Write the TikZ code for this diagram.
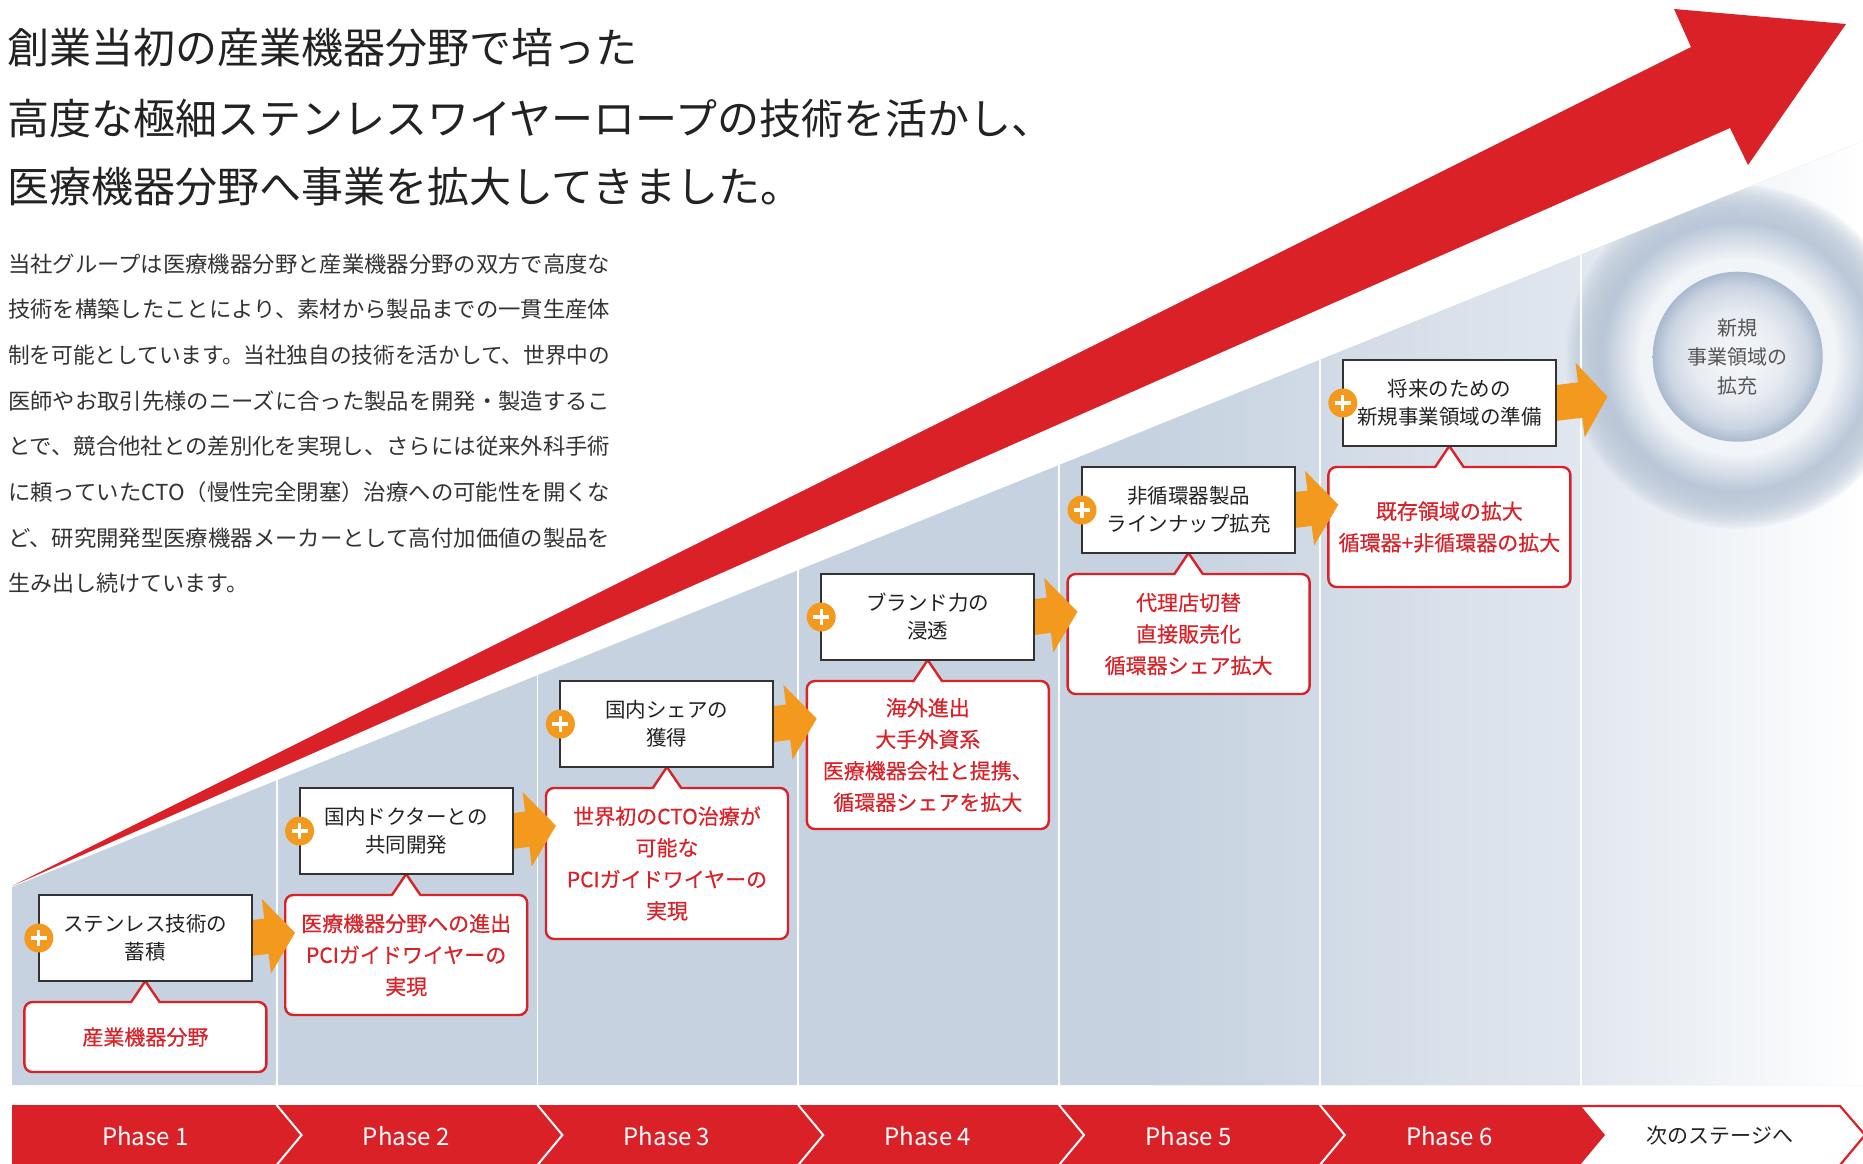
\documentclass[tikz,border=0pt]{standalone}
\usepackage{graphicx}
\usepackage{fontspec}
\setmainfont{Noto Sans CJK JP}
\newfontfamily\redfont[FakeBold=0.4]{Noto Sans CJK JP}
\definecolor{redc}{HTML}{DA2128}
\definecolor{orangec}{HTML}{F39A1E}
\definecolor{grayc}{HTML}{C6D2E0}
\definecolor{midgray}{HTML}{E1E7EF}
\definecolor{boxc}{HTML}{333333}
\definecolor{textc}{HTML}{222222}
\definecolor{bodyc}{HTML}{333333}
\definecolor{circtext}{HTML}{555555}
\definecolor{hwhite}{HTML}{F2F5F8}
\definecolor{hring}{HTML}{BAC7D8}
\definecolor{icz}{HTML}{F6F8FA}
\definecolor{ica}{HTML}{E8ECF2}
\definecolor{icb}{HTML}{CAD4E1}
\definecolor{icc}{HTML}{A9B9CE}
\pgfdeclareradialshading{haloshade}{\pgfpointorigin}{color(0bp)=(hwhite); color(18bp)=(hwhite); color(25bp)=(hring); color(50bp)=(hring)}
\pgfdeclareradialshading{innershade}{\pgfpointorigin}{color(0bp)=(icz); color(13bp)=(ica); color(21bp)=(icb); color(25bp)=(icc); color(50bp)=(icc)}
\pgfdeclarelayer{back}
\pgfdeclarelayer{low}
\pgfdeclarelayer{mid}
\pgfsetlayers{back,low,mid,main}
\newcommand{\oarrow}[3]{\fill[orangec, shift={(#1)}, rotate=7] (-12,-17.8) -- (#2,-17.8) -- (#2,-37.6) -- (#3,0) -- (#2,37.6) -- (#2,17.8) -- (-12,17.8) -- cycle;}
\newcommand{\jline}[1]{\resizebox{602pt}{\height}{#1}}
\newcommand{\callptr}[2]{%
  \fill[white] ([xshift=-13.3pt,yshift=-2.6pt]#1.north) -- ([xshift=-13.3pt]#1.north) -- (#2.south) -- ([xshift=13.3pt]#1.north) -- ([xshift=13.3pt,yshift=-2.6pt]#1.north) -- cycle;
  \draw[redc, line width=2.4pt] ([xshift=-14.2pt]#1.north) -- (#2.south) -- ([xshift=14.2pt]#1.north);}
\begin{document}
\begin{tikzpicture}[x=1pt,y=-1pt,
  box/.style={draw=boxc, line width=2pt, fill=white, minimum width=213pt, minimum height=86pt, inner sep=0pt, outer sep=0pt, align=center, text=textc, font=\fontsize{20.5pt}{28pt}\selectfont, anchor=north west},
  callout/.style={draw=redc, line width=2.4pt, fill=white, rounded corners=8pt, minimum width=242pt, inner sep=0pt, outer sep=0pt, align=center, text=redc, font=\redfont\fontsize{21pt}{31.5pt}\selectfont, anchor=north},
  phase/.style={text=white, font=\fontsize{24pt}{28pt}\selectfont, inner sep=0pt},
  titletext/.style={anchor=west, inner sep=0pt, text=textc, font=\fontsize{42pt}{50pt}\selectfont},
  bodytext/.style={anchor=west, inner sep=0pt, text=bodyc, font=\fontsize{22pt}{30pt}\selectfont},
  circtextstyle/.style={align=center, inner sep=0pt, text=circtext, font=\fontsize{20pt}{29pt}\selectfont},
  plussign/.pic={\fill[orangec] (0,0) circle (14.5pt); \draw[white, line width=3.2pt] (-8pt,0) -- (8pt,0) (0,-8pt) -- (0,8pt);}
]
\useasboundingbox (0,0) rectangle (1863,1163);
\begin{pgfonlayer}{back}
\fill[white] (0,0) rectangle (1863,1163);
% gray staircase background
\begin{scope}
\clip (12,887) -- (1863,141) -- (1863,1085) -- (12,1085) -- cycle;
\fill[grayc] (0,0) rectangle (1863,1100);
\shade[left color=grayc, right color=midgray] (1150,0) rectangle (1580,1100);
\shade[left color=midgray, right color=white] (1580,0) rectangle (1863,1100);
\coordinate (ctr) at (1737.7,356.7);
\foreach \r in {172,170,...,136} { \fill[hring, opacity=0.12] (ctr) circle (\r pt); }
\shade[shading=haloshade] (ctr) circle (135pt);
\shade[shading=innershade] (ctr) circle (85pt);
\foreach \d in {276.6,537.4,798.2,1059,1319.8,1580.6} { \draw[white, line width=1.8pt] (\d,0) -- (\d,1090); }
\end{scope}
% big red arrow
\fill[redc] (12,886) -- (1691,47) -- (1674,9) -- (1846,24) -- (1748,165) -- (1730,128) -- cycle;
% phase bar
\fill[redc] (12,1105) -- (1580,1105) -- (1605,1135) -- (1580,1165) -- (12,1165) -- cycle;
\foreach \d in {276.6,537.4,798.2,1059,1319.8} { \draw[white, line width=2pt] (\d,1105) -- (\d+25,1135) -- (\d,1165); }
\draw[redc, line width=2.2pt] (1580,1106) -- (1840,1106) -- (1865,1135) -- (1840,1165);
\end{pgfonlayer}

% phase boxes
\node[box] (b1) at (38.8,895) {ステンレス技術の\\蓄積};
\node[box] (b2) at (299.6,788) {国内ドクターとの\\共同開発};
\node[box] (b3) at (560.4,681) {国内シェアの\\獲得};
\node[box] (b4) at (821.2,574) {ブランド力の\\浸透};
\node[box] (b5) at (1082,467) {非循環器製品\\ラインナップ拡充};
\node[box] (b6) at (1342.8,360) {将来のための\\新規事業領域の準備};
\foreach \b in {b1,b2,b3,b4,b5,b6} { \pic at (\b.west) {plussign}; }

% callouts
\begin{pgfonlayer}{low}
\node[callout, minimum height=70pt] (c1) at (145.4,1002) {産業機器分野};
\node[callout, minimum height=120pt] (c2) at (406.2,895) {医療機器分野への進出\\PCIガイドワイヤーの\\実現};
\node[callout, minimum height=151pt] (c3) at (667,788) {世界初のCTO治療が\\可能な\\PCIガイドワイヤーの\\実現};
\node[callout, minimum height=148pt] (c4) at (927.8,681) {海外進出\\大手外資系\\医療機器会社と提携、\\循環器シェアを拡大};
\node[callout, minimum height=120pt] (c5) at (1188.6,574) {代理店切替\\直接販売化\\循環器シェア拡大};
\node[callout, minimum height=120pt] (c6) at (1449.4,467) {既存領域の拡大\\循環器+非循環器の拡大};
\callptr{c1}{b1}
\callptr{c2}{b2}
\callptr{c3}{b3}
\callptr{c4}{b4}
\callptr{c5}{b5}
\callptr{c6}{b6}
\end{pgfonlayer}

% orange arrows
\begin{pgfonlayer}{mid}
\oarrow{b1.east}{14.7}{43.6}
\oarrow{b2.east}{14.7}{43.6}
\oarrow{b3.east}{14.7}{43.6}
\oarrow{b4.east}{14.7}{43.6}
\oarrow{b5.east}{14.7}{43.6}
\oarrow{b6.east}{24.5}{52}
\end{pgfonlayer}

% circle text
\node[circtextstyle] (nc) at (1737.7,357) {新規\\事業領域の\\拡充};

% phase labels
\node[phase] (ph1) at (145.4,1136) {Phase 1};
\node[phase] (ph2) at (406.2,1136) {Phase 2};
\node[phase] (ph3) at (667,1136) {Phase 3};
\node[phase] (ph4) at (927.8,1136) {Phase 4};
\node[phase] (ph5) at (1188.6,1136) {Phase 5};
\node[phase] (ph6) at (1449.4,1136) {Phase 6};
\node[inner sep=0pt, text=textc, font=\fontsize{21pt}{25pt}\selectfont] (ph7) at (1720,1136) {次のステージへ};

% title
\node[titletext] (t1) at (7,47.5) {創業当初の産業機器分野で培った};
\node[titletext] (t2) at (7,118.8) {高度な極細ステンレスワイヤーロープの技術を活かし、};
\node[titletext] (t3) at (7,186.5) {医療機器分野へ事業を拡大してきました。};

% body
\node[bodytext] (p1) at (8,263.8) {\jline{当社グループは医療機器分野と産業機器分野の双方で高度な}};
\node[bodytext] (p2) at (8,309.5) {\jline{技術を構築したことにより、素材から製品までの一貫生産体}};
\node[bodytext] (p3) at (8,355.1) {\jline{制を可能としています。当社独自の技術を活かして、世界中の}};
\node[bodytext] (p4) at (8,400.8) {\jline{医師やお取引先様のニーズに合った製品を開発・製造するこ}};
\node[bodytext] (p5) at (8,446.4) {\jline{とで、競合他社との差別化を実現し、さらには従来外科手術}};
\node[bodytext] (p6) at (8,492.1) {\jline{に頼っていたCTO（慢性完全閉塞）治療への可能性を開くな}};
\node[bodytext] (p7) at (8,537.8) {\jline{ど、研究開発型医療機器メーカーとして高付加価値の製品を}};
\node[bodytext] (p8) at (8,583.4) {生み出し続けています。};
\end{tikzpicture}
\end{document}
